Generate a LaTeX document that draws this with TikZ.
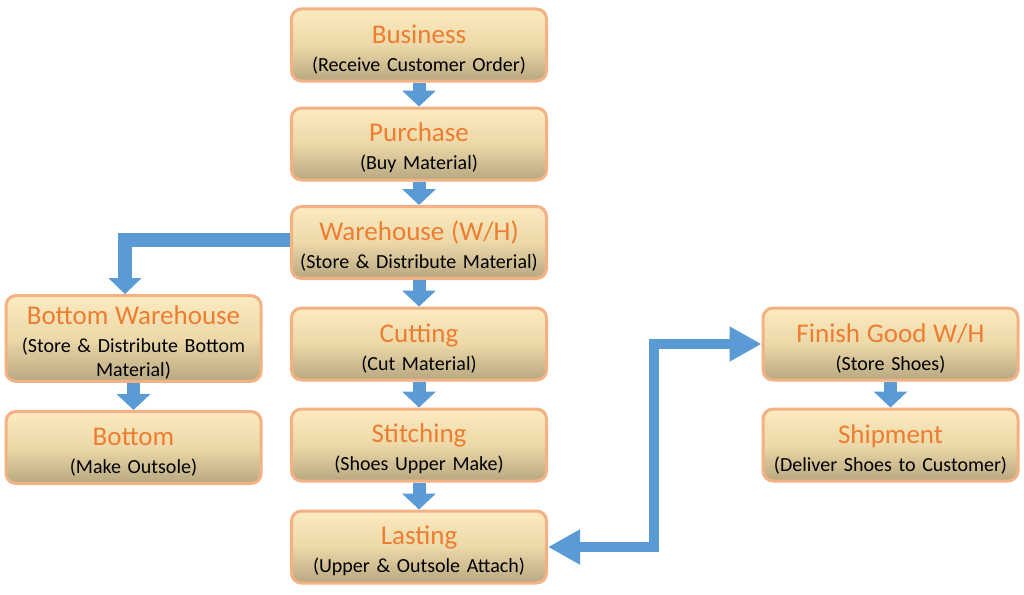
\documentclass[tikz,border=0pt]{standalone}
\usepackage{fontspec}
\setmainfont{Carlito}
\usetikzlibrary{arrows.meta,positioning}
\definecolor{boxtop}{RGB}{252,235,192}
\definecolor{boxmid}{RGB}{236,216,168}
\definecolor{boxbot}{RGB}{184,168,128}
\definecolor{boxedge}{RGB}{244,177,131}
\definecolor{ttl}{RGB}{237,125,49}
\definecolor{flow}{RGB}{91,155,213}
\tikzset{
  stepbox/.style={draw=boxedge, line width=3pt, rounded corners=10pt,
    top color=boxtop, bottom color=boxbot, middle color=boxmid,
    minimum width=255pt, minimum height=72pt, text width=250pt, align=center,
    inner sep=2pt, font=\fontsize{20}{28}\selectfont},
  smallarrow/.style={draw=flow, line width=13pt, -{Triangle[width=33pt,length=16pt]}},
  bigarrow/.style={draw=flow, line width=14pt, line join=miter, -{Triangle[width=32pt,length=16pt]}},
  dblarrow/.style={draw=flow, line width=10pt, line join=miter, {Triangle[width=33pt,length=32pt]}-{Triangle[width=33pt,length=32pt]}}
}
\newcommand{\ttlline}[1]{{\fontsize{27}{28}\selectfont\color{ttl}\rule{0pt}{27pt}#1}}
\begin{document}
\begin{tikzpicture}[x=1pt,y=-1pt]
\useasboundingbox[fill=white] (0,0) rectangle (1024,594);
\node[stepbox] (bus) at (419,45) {\ttlline{Business}\\(Receive Customer Order)};
\node[stepbox] (pur) at (419,144) {\ttlline{Purchase}\\(Buy Material)};
\node[stepbox] (wh) at (419,242.5) {\ttlline{Warehouse (W/H)}\\(Store \& Distribute Material)};
\node[stepbox] (cut) at (419,344) {\ttlline{Cutting}\\(Cut Material)};
\node[stepbox] (sti) at (419,445) {\ttlline{Stitching}\\(Shoes Upper Make)};
\node[stepbox] (las) at (419,547) {\ttlline{Lasting}\\(Upper \& Outsole Attach)};
\node[stepbox, minimum height=83pt, font=\fontsize{20}{24}\selectfont] (bwh) at (133.5,338.5) {\ttlline{Bottom Warehouse}\\[4pt](Store \& Distribute Bottom\\Material)};
\node[stepbox] (bot) at (133.5,447.5) {\ttlline{Bottom}\\(Make Outsole)};
\node[stepbox] (fg) at (890.5,344) {\ttlline{Finish Good W/H}\\(Store Shoes)};
\node[stepbox] (shp) at (890.5,445) {\ttlline{Shipment}\\(Deliver Shoes to Customer)};
\draw[smallarrow] (bus.south) -- (pur.north);
\draw[smallarrow] (pur.south) -- (wh.north);
\draw[smallarrow] (wh.south) -- (cut.north);
\draw[smallarrow] (cut.south) -- (sti.north);
\draw[smallarrow] (sti.south) -- (las.north);
\draw[smallarrow] (bwh.south) -- (bot.north);
\draw[smallarrow] (fg.south) -- (shp.north);
\draw[bigarrow] ([yshift=2.5pt]wh.west) -| ([xshift=-8.5pt]bwh.north);
\coordinate (turn) at (654,547);
\draw[dblarrow] (las.east) -- (turn) |- (fg.west);
\end{tikzpicture}
\end{document}
